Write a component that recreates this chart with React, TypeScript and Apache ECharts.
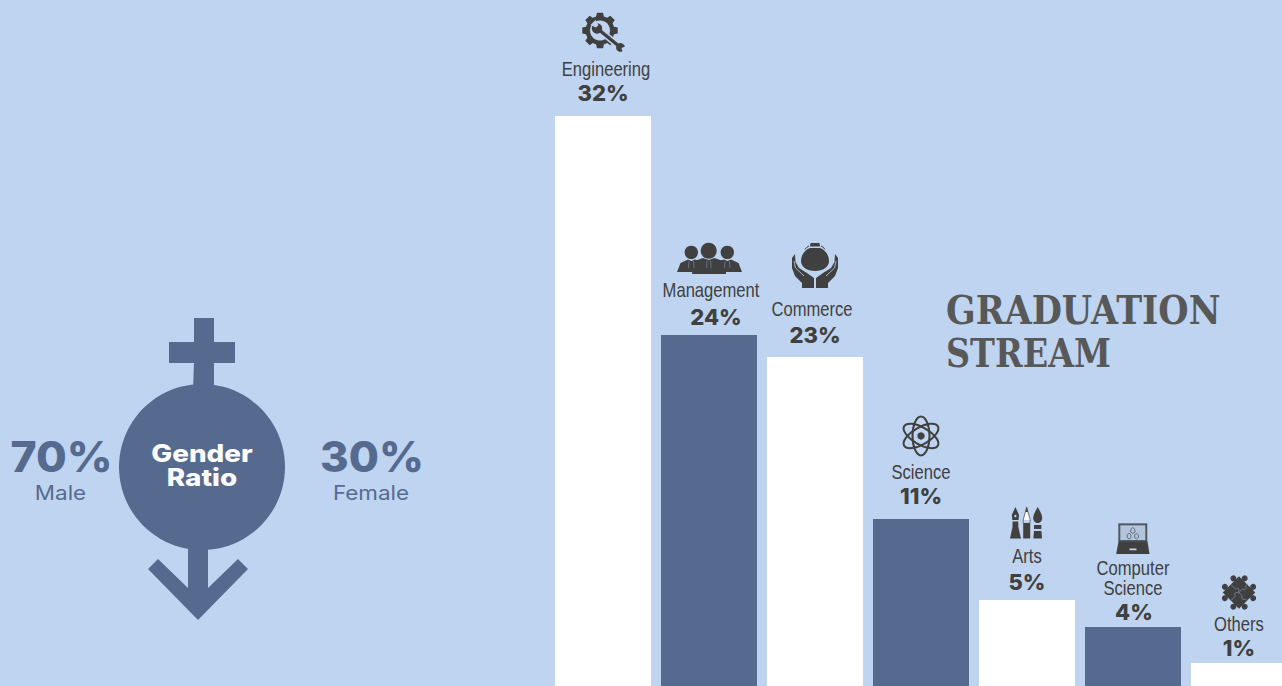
import React, { useEffect, useRef } from "react";
import * as echarts from "echarts";

const streams = ["Engineering", "Management", "Commerce", "Science", "Arts", "Computer\nScience", "Others"];
const statedShares = [32, 24, 23, 11, 5, 4, 1];
// Bar heights as drawn in the picture: they are not strictly proportional to the printed shares.
const drawnHeights = [32, 19.7, 18.47, 9.38, 4.83, 3.31, 1.29];
const genderShares = [70, 30];
const genderNames = ["Male", "Female"];

const BG = "#BFD4F0";
const BLUE = "#566A90";
const INK = "#404040";
const NAME_FONT = '"Liberation Sans", sans-serif';
const NUM_FONT = "Inter, sans-serif";
const TITLE_FONT = '700 40px "DejaVu Serif", serif';

const P = (d: string, fill = INK) => ({ type: "path", shape: { pathData: d }, style: { fill } });
const C = (cx: number, cy: number, r: number, fill = INK) => ({ type: "circle", shape: { cx, cy, r }, style: { fill } });
const SL = (d: string, stroke: string, lineWidth: number) => ({ type: "path", shape: { pathData: d }, style: { fill: "none", stroke, lineWidth } });

function gearPath(cx: number, cy: number, ro: number, ri: number, teeth: number) {
  const pts: string[] = [];
  const step = (Math.PI * 2) / teeth;
  for (let i = 0; i < teeth; i++) {
    const a = i * step - Math.PI / 2;
    [[-0.34, ri], [-0.22, ro], [0.22, ro], [0.34, ri]].forEach(([f, r], k) => {
      const t = a + f * step;
      pts.push(`${i === 0 && k === 0 ? "M" : "L"}${(cx + r * Math.cos(t)).toFixed(2)} ${(cy + r * Math.sin(t)).toFixed(2)}`);
    });
  }
  return pts.join(" ") + " Z";
}

const iconGear = () => [
  P(gearPath(-3, -1.5, 18, 14.5, 8)),
  C(-3, -1.5, 10, BG),
  SL("M-5 -3 L17 15", BG, 6.5),
  SL("M-5 -3 L17 15", INK, 3.4),
  C(-6, -3.5, 5.2),
  P("M-12.5 -7 L-7 -4.5 L-4.5 -7 L-7.5 -12 Z", BG),
  C(17.5, 15.5, 4.4),
  P("M23.5 14 L18.5 16 L20 21.5 L24 21 Z", BG),
];

const iconPeople = () => [
  C(-17.7, -5.7, 6.7),
  C(18.3, -5.7, 6.7),
  P("M-32 14 L-28.5 5 L-21 1.5 L-17.7 3 L-14 1.5 L-9 3 L-9 14 Z"),
  P("M33 14 L29.5 5 L22 1.5 L18.5 3 L15 1.5 L10 3 L10 14 Z"),
  C(-0.3, -7.3, 8),
  P("M-17 16 L-16 5 L-13 2.5 L-6 0 L-0.3 2 L5.5 0 L12.5 2.5 L16.5 5 L17 16 Z"),
  SL("M-2 2.5 L-2.5 10 M1.5 2.5 L2 10", "#7C8899", 0.7),
  SL("M-20 3 L-20.5 10 M-15.5 3 L-15 10", "#7C8899", 0.7),
  SL("M16 3 L15.5 10 M20.5 3 L21 10", "#7C8899", 0.7),
];

const iconMoneyHands = () => [
  P("M-5 -17 C-11 -15 -14 -9 -14 -4 C-14 2 -8 6 0 6 C8 6 14 2 14 -4 C14 -9 11 -15 5 -17 Z"),
  P("M-4.5 -22 L4.5 -22 L5 -18.5 L-5 -18.5 Z"),
  SL("M-10 -15.5 Q-8 -18.5 -6 -19", INK, 1),
  SL("M10 -15.5 Q8 -18.5 6 -19", INK, 1),
  P("M-20 -11 L-19.5 -3 L-16 3 L-8 8 L-1 13 L-1 23 L-13 23 L-13 18 L-20 11 L-23 3 L-23 -7 Z"),
  P("M20 -11 L19.5 -3 L16 3 L8 8 L1 13 L1 23 L13 23 L13 18 L20 11 L23 3 L23 -7 Z"),
  SL("M-21 -4 L-19.5 3 L-11 11", BG, 0.8),
  SL("M21 -4 L19.5 3 L11 11", BG, 0.8),
];

const orbit = (rotation: number) => ({
  type: "ellipse",
  shape: { cx: 0, cy: 0, rx: 19.5, ry: 8.5 },
  rotation,
  style: { fill: "none", stroke: INK, lineWidth: 2 },
});
const iconAtom = () => [orbit(Math.PI / 2), orbit(Math.PI / 6), orbit(-Math.PI / 6), C(0, 0, 3.7)];

const iconArtTools = () => [
  // pen
  P("M-11.6 -16 L-8 -8 L-8.5 -3 L-14.7 -3 L-15.2 -8 Z"),
  P("M-14.5 -1.5 L-8.7 -1.5 L-8.7 4 L-6 15.5 L-17 15.5 L-14.5 4 Z"),
  C(-11.6, -7, 1.2, BG),
  // pencil
  P("M-0.3 -16 L3.2 -3 L-3.8 -3 Z", "#FFFFFF"),
  P("M-0.3 -16 L1 -11 L-1.6 -11 Z"),
  SL("M-0.3 -16 L3.2 -3 L3.2 0 M-0.3 -16 L-3.8 -3 L-3.8 0", INK, 0.7),
  P("M-3.8 0 L3.2 0 L3.2 15.5 L-3.8 15.5 Z"),
  // brush
  P("M10.7 -16 C13.5 -11 15.2 -8 15.2 -5 C15.2 -2 13 0 10.7 0 C8.4 0 6.2 -2 6.2 -5 C6.2 -8 8 -11 10.7 -16 Z"),
  P("M7 2 L14.4 2 L14.4 6 L7 6 Z"),
  P("M7 8 L14.4 8 L15 15.5 L6.4 15.5 Z"),
];

const iconLaptop = () => [
  P("M-14.7 -15.7 L14.3 -15.7 L14.3 3 L-14.7 3 Z", "#505862"),
  P("M-12.7 -13.7 L12.3 -13.7 L12.3 1 L-12.7 1 Z", "#B3C5DC"),
  P("M-14.5 2.5 L14.5 2.5 L16.5 15 L-16.8 15 Z M-3.5 9.5 L-3.5 11.2 L3.5 11.2 L3.5 9.5 Z", INK),
  SL("M-2.3 -9.5 L-0.2 -11.5 L1.9 -9.5 L1.9 -7 L-0.2 -5.5 L-2.3 -7 Z M-5.8 -4 L-3.9 -6 L-2 -4 L-2 -1.5 L-3.9 0 L-5.8 -1.5 Z M1.6 -4 L3.5 -6 L5.4 -4 L5.4 -1.5 L3.5 0 L1.6 -1.5 Z", "#505862", 0.8),
];

const iconPuzzle = () => [
  {
    type: "group",
    rotation: Math.PI / 4,
    children: [
      P("M-11.5 -11.5 L11.5 -11.5 L11.5 11.5 L-11.5 11.5 Z"),
      C(-6, -14, 3), C(6, -14, 3), C(-6, 14, 3), C(6, 14, 3),
      C(-14, -6, 3), C(-14, 6, 3), C(14, -6, 3), C(14, 6, 3),
      SL("M0 -11.5 L0 -5 C3 -5 3 -1 0 -1 L0 5 C-3 5 -3 9 0 9 L0 11.5 M-11.5 0 L-5 0 C-5 -3 -1 -3 -1 0 L5 0 C5 3 9 3 9 0 L11.5 0", "#8492A6", 0.7),
    ],
  },
];

const icons = [iconGear, iconPeople, iconMoneyHands, iconAtom, iconArtTools, iconLaptop, iconPuzzle];

// Offsets of each annotation from the top centre of its bar.
const nameOffsets = [[3, -47], [2, -45], [-3, -48], [0, -47], [0, -44], [0, -59], [0, -39]];
const shareOffsets = [[0, -23], [7, -18], [0, -22], [0, -23], [0, -18], [1, -15], [0, -15]];
const iconOffsets = [[0, -84], [0, -77], [0, -92], [0, -83], [0, -77], [0, -88], [0, -70.5]];

export default function App() {
  const ref = useRef<HTMLDivElement>(null);
  useEffect(() => {
    document.body.style.margin = "0";
    document.body.style.overflow = "hidden";
    const chart = echarts.init(ref.current!, null, { renderer: "svg" });
    chart.setOption({
      animation: false,
      backgroundColor: BG,
      grid: { left: 550, top: 0, width: 742, height: 686 },
      xAxis: { type: "category", data: streams, show: false },
      yAxis: { type: "value", min: 0, max: 38.51, show: false },
      series: [
        {
          type: "bar",
          barWidth: 96,
          silent: true,
          data: drawnHeights.map((v, i) => ({
            value: v,
            itemStyle: { color: i % 2 === 0 ? "#FFFFFF" : BLUE },
          })),
        },
        {
          type: "custom",
          silent: true,
          clip: false,
          z: 5,
          data: drawnHeights.map((v, i) => [i, v]),
          renderItem: (params: any, api: any) => {
            const i = params.dataIndex;
            const [x, y] = api.coord([api.value(0), api.value(1)]);
            const children: any[] = [];
            streams[i].split("\n").forEach((line, k) => {
              children.push({
                type: "text",
                x: x + nameOffsets[i][0],
                y: y + nameOffsets[i][1] + k * 20,
                scaleX: 0.83,
                style: { text: line, fill: INK, font: `400 20px ${NAME_FONT}`, textAlign: "center", textVerticalAlign: "middle" },
              });
            });
            children.push({
              type: "text",
              x: x + shareOffsets[i][0],
              y: y + shareOffsets[i][1],
              style: { text: `${statedShares[i]}%`, fill: INK, font: `800 22px ${NUM_FONT}`, textAlign: "center", textVerticalAlign: "middle" },
            });
            children.push({
              type: "group",
              x: x + iconOffsets[i][0],
              y: y + iconOffsets[i][1],
              children: icons[i](),
            });
            return { type: "group", children };
          },
        },
      ],
      graphic: [
        { type: "polygon", shape: { points: [[194, 318], [214, 318], [214, 342], [235, 342], [235, 363], [214, 363], [214, 390], [193, 390], [194, 363], [169, 363], [169, 342], [194, 342]] }, style: { fill: BLUE } },
        { type: "polygon", shape: { points: [[188, 545], [208, 545], [208, 588], [238, 559], [248, 569], [198, 620], [148, 569], [158, 559], [188, 588]] }, style: { fill: BLUE } },
        { type: "circle", shape: { cx: 202, cy: 467, r: 83 }, style: { fill: BLUE } },
        { type: "text", x: 202, y: 465, scaleX: 1.16, style: { text: "Gender\nRatio", lineHeight: 24, fill: "#FFFFFF", font: `800 24px ${NUM_FONT}`, textAlign: "center", textVerticalAlign: "middle" } },
        { type: "text", x: 61.5, y: 456, scaleX: 1.06, style: { text: `${genderShares[0]}%`, fill: BLUE, font: `800 42px ${NUM_FONT}`, textAlign: "center", textVerticalAlign: "middle" } },
        { type: "text", x: 372, y: 456, scaleX: 1.04, style: { text: `${genderShares[1]}%`, fill: BLUE, font: `800 42px ${NUM_FONT}`, textAlign: "center", textVerticalAlign: "middle" } },
        { type: "text", x: 60.5, y: 492, scaleX: 1.12, style: { text: genderNames[0], fill: BLUE, font: `400 20px ${NUM_FONT}`, textAlign: "center", textVerticalAlign: "middle" } },
        { type: "text", x: 371, y: 492, scaleX: 1.12, style: { text: genderNames[1], fill: BLUE, font: `400 20px ${NUM_FONT}`, textAlign: "center", textVerticalAlign: "middle" } },
        { type: "text", x: 946, y: 310, scaleX: 0.87, style: { text: "GRADUATION", fill: "#585858", font: TITLE_FONT, textAlign: "left", textVerticalAlign: "middle" } },
        { type: "text", x: 946, y: 353, scaleX: 0.835, style: { text: "STREAM", fill: "#585858", font: TITLE_FONT, textAlign: "left", textVerticalAlign: "middle" } },
      ],
    });
    return () => chart.dispose();
  }, []);
  return (
    <div style={{ width: 1282, height: 686, overflow: "hidden" }}>
      <div ref={ref} style={{ width: 1300, height: 686 }} />
    </div>
  );
}
